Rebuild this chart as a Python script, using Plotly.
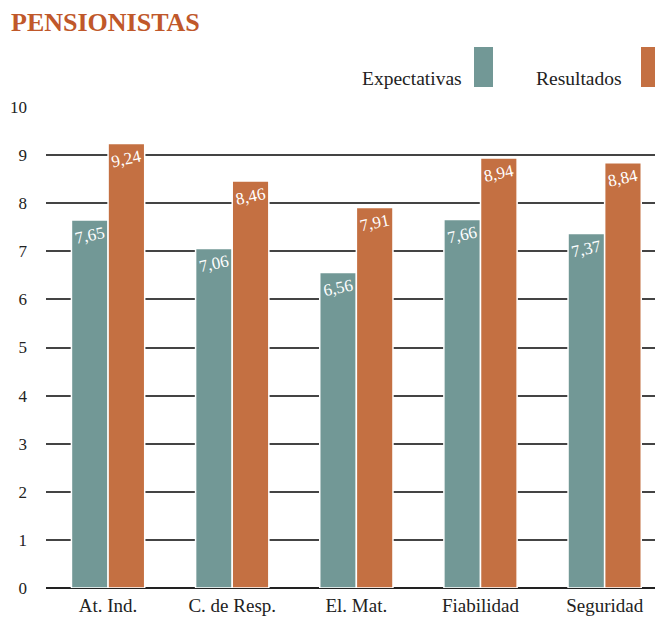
import plotly.graph_objects as go

categories = ["At. Ind.", "C. de Resp.", "El. Mat.", "Fiabilidad", "Seguridad"]
expectativas = [7.65, 7.06, 6.56, 7.66, 7.37]
resultados = [9.24, 8.46, 7.91, 8.94, 8.84]
y_ticks = [0, 1, 2, 3, 4, 5, 6, 7, 8, 9, 10]

TEAL = "#729896"
ORANGE = "#C47042"
TITLE_C = "#C0582A"
OFF = 8  # page body margin
W, H = 663 - OFF, 622 - OFF
L, R, T, B = 46 - OFF, 0, 107 - OFF, 34
PW, PH = W - L - R, H - T - B

def px(x):  # target-screen pixel x -> paper
    return (x - OFF - L) / PW

def py(y):  # target-screen pixel y -> paper
    return (H - B - (y - OFF)) / PH

def fmt(v):
    return f"{v:.2f}".replace(".", ",")

serif = "Liberation Serif"
label_font = dict(family=serif, size=17, color="white")

fig = go.Figure()
fig.add_trace(go.Bar(
    x=categories, y=expectativas, name="Expectativas",
    marker=dict(color=TEAL, line=dict(color="white", width=1.5)),
    text=[fmt(v) for v in expectativas], textposition="inside",
    insidetextanchor="end", textangle=-12, textfont=label_font,
    constraintext="none",
))
fig.add_trace(go.Bar(
    x=categories, y=resultados, name="Resultados",
    marker=dict(color=ORANGE, line=dict(color="white", width=1.5)),
    text=[fmt(v) for v in resultados], textposition="inside",
    insidetextanchor="end", textangle=-12, textfont=label_font,
    constraintext="none",
))

shapes = [
    dict(type="rect", xref="paper", yref="paper", x0=px(474), x1=px(493), y0=py(87), y1=py(47),
         fillcolor=TEAL, line=dict(width=0)),
    dict(type="rect", xref="paper", yref="paper", x0=px(641), x1=px(660), y0=py(87), y1=py(47),
         fillcolor=ORANGE, line=dict(width=0)),
]
annotations = [
    dict(text="<b>PENSIONISTAS</b>", xref="paper", yref="paper", x=px(9), y=py(22),
         xanchor="left", yanchor="middle", showarrow=False,
         font=dict(family=serif, size=26, color=TITLE_C)),
    dict(text="Expectativas", xref="paper", yref="paper", x=px(464), y=py(78),
         xanchor="right", yanchor="middle", showarrow=False,
         font=dict(family=serif, size=19.5, color="#222")),
    dict(text="Resultados", xref="paper", yref="paper", x=px(624), y=py(78),
         xanchor="right", yanchor="middle", showarrow=False,
         font=dict(family=serif, size=19.5, color="#222")),
]

fig.update_layout(
    width=W, height=H,
    margin=dict(l=L, r=R, t=T, b=B, pad=0),
    paper_bgcolor="white", plot_bgcolor="white",
    font=dict(family=serif),
    barmode="group", bargap=0.41, bargroupgap=0.0,
    showlegend=False,
    shapes=shapes, annotations=annotations,
    xaxis=dict(range=[-0.5, 4.47], showgrid=False, showline=False, zeroline=False,
               tickfont=dict(family=serif, size=19, color="#222"), ticks="", ticklabelstandoff=4),
    yaxis=dict(range=[0, 10], tickvals=y_ticks, showgrid=True, gridcolor="#444", gridwidth=1.5,
               zeroline=True, zerolinecolor="#222", zerolinewidth=1.6, showline=False,
               tickfont=dict(family=serif, size=17, color="#222"), ticks="", ticklabelstandoff=18),
)

fig.write_html("out.html")
